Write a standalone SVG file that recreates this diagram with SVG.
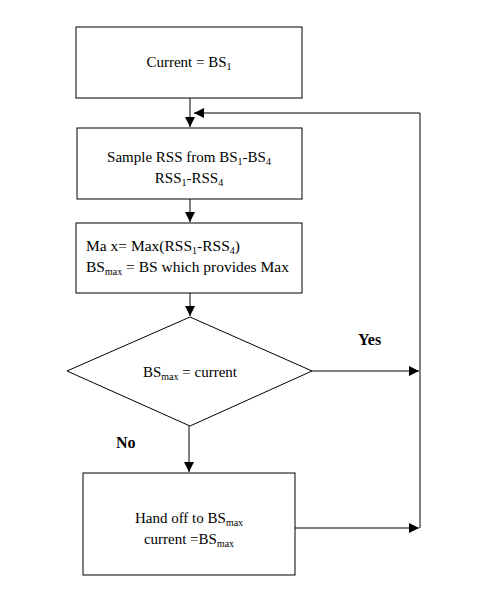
<svg xmlns="http://www.w3.org/2000/svg" width="486" height="600" viewBox="0 0 486 600">
  <style>
    .box { fill: #fff; stroke: #000; stroke-width: 1; }
    .txt { font-family: "Liberation Serif", "Times New Roman", serif; font-size: 15px; fill: #000; }
    .sub { font-size: 10px; }
    .lbl { font-family: "Liberation Serif", "Times New Roman", serif; font-size: 16px; font-weight: bold; fill: #000; }
    .edge { fill: none; stroke: #000; stroke-width: 1; }
  </style>
  <defs>
    <marker id="arrow" markerWidth="12" markerHeight="12" refX="10" refY="6" orient="auto" markerUnits="userSpaceOnUse">
      <path d="M0,1 L10,6 L0,11 Z" fill="#000"/>
    </marker>
  </defs>
  <rect width="486" height="600" fill="#fff"/>

  <g id="connectors">
    <line class="edge" x1="190" y1="98" x2="190" y2="127" marker-end="url(#arrow)"/>
    <line class="edge" x1="190" y1="199" x2="190" y2="222" marker-end="url(#arrow)"/>
    <line class="edge" x1="190" y1="293" x2="190" y2="316" marker-end="url(#arrow)"/>
    <line class="edge" x1="189" y1="426" x2="189" y2="472" marker-end="url(#arrow)"/>
    <line class="edge" x1="312" y1="371" x2="419" y2="371" marker-end="url(#arrow)"/>
    <line class="edge" x1="295" y1="528" x2="419" y2="528" marker-end="url(#arrow)"/>
    <line class="edge" x1="420" y1="528" x2="420" y2="113"/>
    <line class="edge" x1="420" y1="113" x2="194" y2="113" marker-end="url(#arrow)"/>
    <text class="lbl" x="358" y="345">Yes</text>
    <text class="lbl" x="116" y="448">No</text>
  </g>

  <g id="start">
    <rect class="box" x="76" y="27" width="226" height="71"/>
    <text class="txt" x="189" y="67" text-anchor="middle">Current = BS<tspan class="sub" dy="3">1</tspan></text>
  </g>

  <g id="sample">
    <rect class="box" x="77" y="128" width="225" height="71"/>
    <text class="txt" x="189" y="162" text-anchor="middle">Sample RSS from BS<tspan class="sub" dy="3">1</tspan><tspan dy="-3">-BS</tspan><tspan class="sub" dy="3">4</tspan></text>
    <text class="txt" x="189" y="183" text-anchor="middle">RSS<tspan class="sub" dy="3">1</tspan><tspan dy="-3">-RSS</tspan><tspan class="sub" dy="3">4</tspan></text>
  </g>

  <g id="maximum">
    <rect class="box" x="76" y="223" width="226" height="70"/>
    <text class="txt" x="86" y="251" style="font-size:15.5px">Ma x= Max(RSS<tspan class="sub" dy="3">1</tspan><tspan dy="-3">-RSS</tspan><tspan class="sub" dy="3">4</tspan><tspan dy="-3">)</tspan></text>
    <text class="txt" x="86" y="272" style="font-size:15.5px">BS<tspan class="sub" dy="3">max</tspan><tspan dy="-3"> = BS which provides Max</tspan></text>
  </g>

  <g id="decision">
    <polygon class="box" points="190,317 312,371 190,426 67,371"/>
    <text class="txt" x="190" y="377" text-anchor="middle">BS<tspan class="sub" dy="3">max</tspan><tspan dy="-3">  = current</tspan></text>
  </g>

  <g id="handoff">
    <rect class="box" x="83" y="473" width="212" height="102"/>
    <text class="txt" x="189" y="523" text-anchor="middle">Hand off to BS<tspan class="sub" dy="3">max</tspan></text>
    <text class="txt" x="189" y="544" text-anchor="middle">current =BS<tspan class="sub" dy="3">max</tspan></text>
  </g>
</svg>
